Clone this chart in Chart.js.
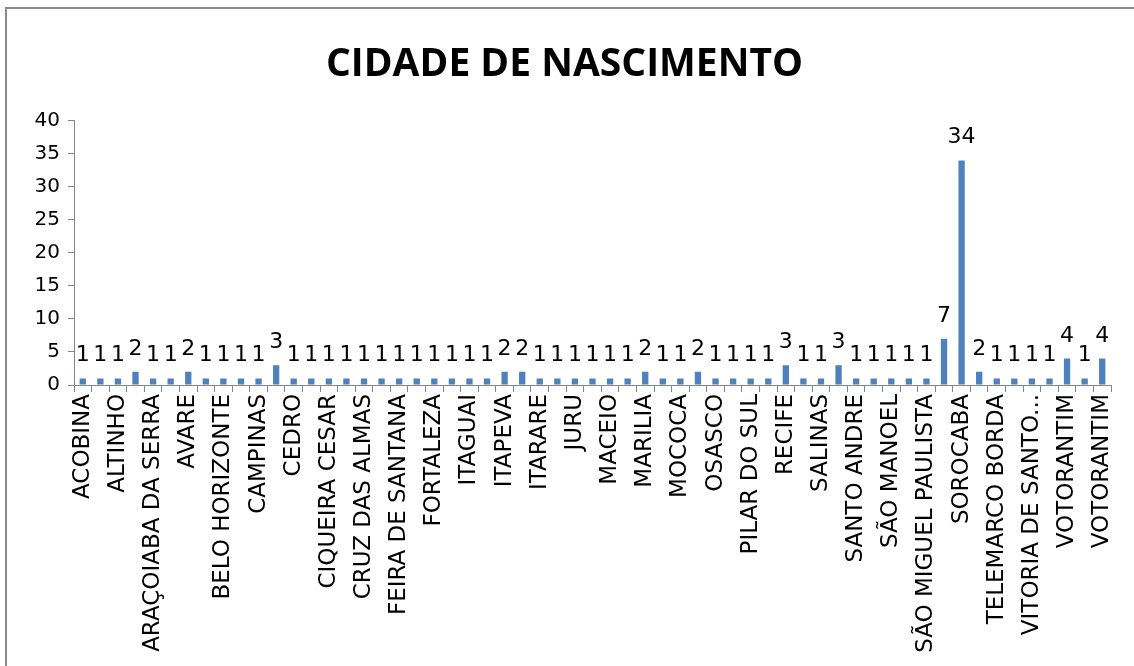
<!DOCTYPE html>
<html>
<head>
<meta charset="utf-8">
<script src="https://cdn.jsdelivr.net/npm/chart.js@4/dist/chart.umd.min.js"></script>
<style>
    html, body { margin: 0; padding: 0; background: #fff; overflow: hidden; }
    #wrap { position: relative; width: 1134px; height: 666px; }
    #frame {
        position: absolute; left: 5px; top: 7px; width: 1200px; height: 800px;
        border: 2px solid #8a8a8a; pointer-events: none;
    }
</style>
</head>
<body>
<div id="wrap">
    <canvas id="cidadeChart" width="1134" height="666"></canvas>
    <div id="frame"></div>
</div>
<script>
// Cidades (todas as categorias; no gráfico só aparece uma a cada duas)
const cidades = [
    'ACOBINA', 'ALAGOINHAS', 'ALTINHO', 'AMERICANA', 'ARAÇOIABA DA SERRA', 'ASSIS',
    'AVARE', 'BAURU', 'BELO HORIZONTE', 'BOITUVA', 'CAMPINAS', 'CAPÃO BONITO',
    'CEDRO', 'CERQUILHO', 'CIQUEIRA CESAR', 'COTIA', 'CRUZ DAS ALMAS', 'CURITIBA',
    'FEIRA DE SANTANA', 'FLORIANOPOLIS', 'FORTALEZA', 'GUARULHOS', 'ITAGUAI', 'ITAPETININGA',
    'ITAPEVA', 'ITAPIRA', 'ITARARE', 'ITU', 'JURU', 'LONDRINA',
    'MACEIO', 'MAIRINQUE', 'MARILIA', 'MINAS NOVAS', 'MOCOCA', 'NATAL',
    'OSASCO', 'PIEDADE', 'PILAR DO SUL', 'PORTO FELIZ', 'RECIFE', 'RIO DE JANEIRO',
    'SALINAS', 'SALTO', 'SANTO ANDRE', 'SÃO CAETANO', 'SÃO MANOEL', 'SÃO MIGUEL ARCANJO',
    'SÃO MIGUEL PAULISTA', 'SÃO PAULO', 'SOROCABA', 'TATUI', 'TELEMARCO BORDA', 'TIETE',
    'VITORIA DE SANTO ANTÃO', 'VOTORANTIM', 'VOTORANTIM', 'VOTORANTIM', 'VOTORANTIM'
];

// Quantidade de pessoas por cidade
const quantidades = [
    1, 1, 1, 2, 1, 1, 2, 1, 1, 1, 1, 3, 1, 1, 1, 1,
    1, 1, 1, 1, 1, 1, 1, 1, 2, 2, 1, 1, 1, 1, 1, 1, 2,
    1, 1, 2, 1, 1, 1, 1, 3, 1, 1, 3, 1, 1, 1, 1, 1,
    7, 34, 2, 1, 1, 1, 1, 4, 1, 4
];

const eixoY = { min: 0, max: 40, passo: 5 };
const titulo = 'CIDADE DE NASCIMENTO';

const fonte = '"DejaVu Sans", "Open Sans", sans-serif';
const fonteTitulo = '"Open Sans", sans-serif';

// Rótulos de valor em cima das barras
const rotulosValor = {
    id: 'rotulosValor',
    afterDatasetsDraw(chart) {
        const ctx = chart.ctx;
        const meta = chart.getDatasetMeta(0);
        ctx.save();
        ctx.font = '22px ' + fonte;
        ctx.fillStyle = '#000';
        ctx.textAlign = 'center';
        ctx.textBaseline = 'alphabetic';
        meta.data.forEach((bar, i) => {
            ctx.fillText(String(quantidades[i]), bar.x, bar.y - 17);
        });
        ctx.restore();
    }
};

const ctx = document.getElementById('cidadeChart');
new Chart(ctx, {
    type: 'bar',
    data: {
        labels: cidades,
        datasets: [{
            data: quantidades,
            backgroundColor: '#4F81BD',
            barPercentage: 0.36,
            categoryPercentage: 1
        }]
    },
    options: {
        responsive: false,
        animation: false,
        layout: { padding: { left: 18, right: 23, top: 0, bottom: 0 } },
        plugins: {
            legend: { display: false },
            tooltip: { enabled: false },
            title: {
                display: true,
                text: titulo,
                color: '#000',
                font: { family: fonteTitulo, size: 39, weight: 'bold' },
                padding: { top: 41, bottom: 33 }
            }
        },
        scales: {
            x: {
                offset: true,
                border: { display: true, color: '#868686', width: 1 },
                grid: { display: true, drawOnChartArea: false, drawTicks: true, tickLength: 7, color: '#868686', offset: true },
                ticks: {
                    autoSkip: false,
                    maxRotation: 90,
                    minRotation: 90,
                    padding: 2,
                    color: '#000',
                    font: { family: fonte, size: 23 },
                    callback: function (valor, indice) {
                        if (indice % 2 !== 0) return '';
                        const nome = cidades[indice];
                        return nome.length > 20 ? nome.slice(0, 16) + '...' : nome;
                    }
                },
                afterFit(scale) { scale.height = 281; }
            },
            y: {
                min: eixoY.min,
                max: eixoY.max,
                border: { display: true, color: '#868686', width: 1 },
                grid: { display: true, drawOnChartArea: false, drawTicks: true, tickLength: 6, color: '#868686' },
                ticks: {
                    stepSize: eixoY.passo,
                    padding: 8,
                    color: '#000',
                    font: { family: fonte, size: 20 }
                },
                afterFit(scale) { scale.width = 56; }
            }
        }
    },
    plugins: [rotulosValor]
});
</script>
</body>
</html>
